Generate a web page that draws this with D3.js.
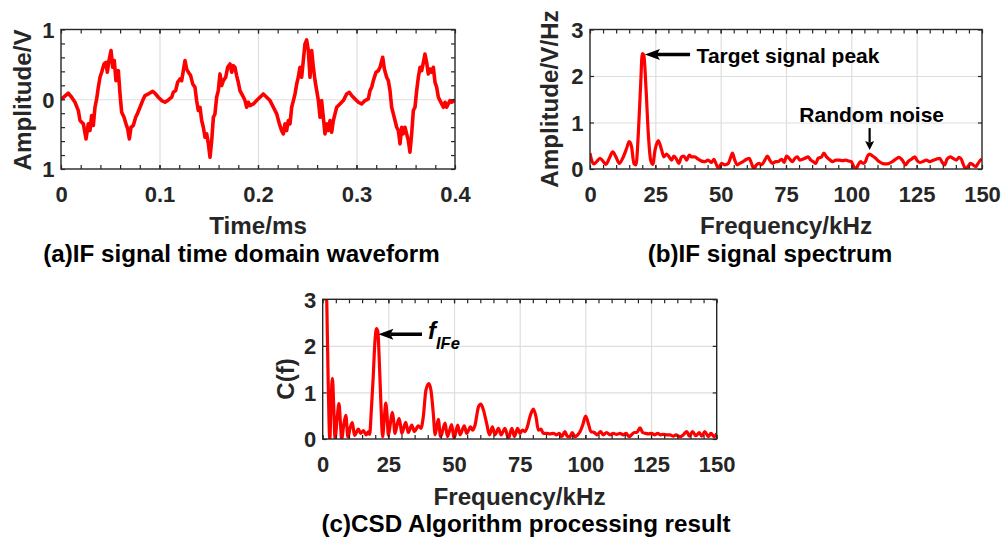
<!DOCTYPE html>
<html><head><meta charset="utf-8">
<script src="https://cdn.jsdelivr.net/npm/d3@7"></script>
<style>
html,body{margin:0;padding:0;background:#fff;}
svg{display:block;font-family:"Liberation Sans",Arial,Helvetica,sans-serif;font-weight:bold;}
</style></head><body>
<svg id="chart" width="1005" height="541"></svg>
<script>
// ---------------- DATA ----------------
// (a) IF signal time-domain waveform
const timeMs = [0,0.0074,0.0108,0.0142,0.0176,0.0193,0.0227,0.0254,0.0277,0.0294,
0.0311,0.0328,0.0345,0.0362,0.0379,0.0396,0.0413,0.0437,0.0457,0.0470,
0.0487,0.0508,0.0525,0.0541,0.0558,0.0582,0.0599,0.0616,0.0640,0.0660,
0.0677,0.0694,0.0711,0.0734,0.0758,0.0775,0.0802,0.0829,0.0853,0.0887,
0.0931,0.0954,0.0988,0.1022,0.1056,0.1090,0.1124,0.1140,0.1164,0.1184,
0.1208,0.1225,0.1242,0.1259,0.1276,0.1293,0.1316,0.1337,0.1360,0.1377,
0.1394,0.1411,0.1428,0.1445,0.1462,0.1479,0.1496,0.1513,0.1530,0.1547,
0.1563,0.1580,0.1597,0.1614,0.1631,0.1648,0.1672,0.1692,0.1716,0.1733,
0.1750,0.1766,0.1783,0.1800,0.1817,0.1844,0.1868,0.1885,0.1902,0.1919,
0.1953,0.1986,0.2020,0.2054,0.2088,0.2122,0.2156,0.2190,0.2217,0.2240,
0.2257,0.2274,0.2291,0.2308,0.2325,0.2342,0.2359,0.2376,0.2393,0.2409,
0.2426,0.2443,0.2460,0.2477,0.2494,0.2511,0.2528,0.2545,0.2562,0.2579,
0.2596,0.2613,0.2630,0.2646,0.2663,0.2680,0.2697,0.2714,0.2731,0.2748,
0.2765,0.2782,0.2799,0.2832,0.2866,0.2900,0.2927,0.2951,0.2985,0.3019,
0.3052,0.3086,0.3120,0.3137,0.3154,0.3171,0.3198,0.3222,0.3239,0.3266,
0.3283,0.3306,0.3323,0.3340,0.3357,0.3374,0.3391,0.3408,0.3425,0.3442,
0.3459,0.3475,0.3492,0.3509,0.3526,0.3543,0.3560,0.3577,0.3594,0.3611,
0.3628,0.3645,0.3662,0.3679,0.3695,0.3712,0.3729,0.3746,0.3763,0.3780,
0.3797,0.3814,0.3831,0.3848,0.3865,0.3882,0.3899,0.3915,0.3932,0.3949,
0.3966,0.4];
const amplitudeV = [0,0.086,0.029,-0.043,-0.162,-0.305,-0.353,-0.568,-0.353,-0.449,
-0.234,-0.377,-0.115,0.005,0.172,0.315,0.387,0.506,0.530,0.387,
0.554,0.697,0.458,0.554,0.267,0.410,0.076,-0.186,-0.258,-0.353,
-0.425,-0.568,-0.401,-0.377,-0.258,-0.210,-0.115,-0.019,0.053,0.076,
0.115,0.086,0.029,-0.019,-0.043,-0.010,0.029,0.100,0.124,0.243,
0.291,0.267,0.410,0.554,0.434,0.387,0.339,0.220,0.172,-0.019,
-0.162,-0.115,-0.305,-0.401,-0.544,-0.496,-0.640,-0.831,-0.592,-0.258,
-0.210,0.029,0.124,0.363,0.196,0.267,0.315,0.458,0.506,0.387,
0.482,0.458,0.339,0.243,0.124,0.053,-0.019,-0.115,-0.043,-0.091,
-0.067,-0.019,0.029,0.076,0.029,-0.019,-0.115,-0.210,-0.353,-0.449,
-0.496,-0.353,-0.449,-0.305,-0.353,-0.115,-0.019,0.076,0.220,0.315,
0.458,0.315,0.554,0.792,0.850,0.697,0.315,0.697,0.458,0.267,
0.124,-0.019,-0.258,-0.019,-0.258,-0.496,-0.353,-0.449,-0.305,-0.473,
-0.305,-0.210,-0.115,-0.067,-0.019,0.076,0.100,0.053,0.005,-0.043,
-0.067,-0.019,0.005,0.124,0.172,0.267,0.387,0.410,0.458,0.601,
0.434,0.315,0.267,0.124,-0.115,-0.210,-0.305,-0.401,-0.449,-0.640,
-0.401,-0.496,-0.401,-0.496,-0.592,-0.759,-0.496,-0.162,-0.115,0.124,
0.315,0.458,0.410,0.530,0.649,0.530,0.363,0.434,0.387,0.458,
0.243,0.172,0.029,-0.019,-0.067,-0.115,-0.043,-0.115,-0.067,-0.019,
-0.043,-0.010];

// (b) IF signal spectrum
const specFreqKHz = [0,0.64,1.53,2.55,3.82,5.10,6.12,7.39,8.67,9.94,
11.2,12.5,14.0,15.0,15.9,16.8,17.6,18.5,19.4,20.0,
20.6,21.4,22.3,23.2,24.0,24.9,26.1,27.4,28.3,29.3,
30.3,31.2,32.1,33.1,34.0,35.0,35.9,37.0,38.0,38.9,
40.1,41.4,42.7,44.0,45.2,46.5,47.4,48.4,49.2,50.3,
51.6,52.9,53.9,54.5,55.4,56.3,57.3,58.6,59.9,60.9,
61.8,62.7,63.7,64.7,65.6,66.9,67.9,68.8,69.8,71.1,
72.0,73.3,74.3,75.2,76.2,77.5,78.4,79.3,80.3,81.3,
82.2,83.5,84.5,85.4,86.4,87.3,88.6,89.5,90.5,91.5,
92.8,94.1,95.3,96.6,97.9,99.1,100.0,100.9,101.7,102.6,
103.5,104.5,105.4,106.2,107.0,108.1,109.3,110.6,111.9,113.2,
114.4,115.7,117.0,118.3,119.5,120.8,121.7,123.0,124.3,125.1,
126.2,127.4,128.7,130.0,131.3,132.5,133.8,134.8,135.7,136.6,
137.9,138.9,140.2,141.2,142.1,142.7,143.7,144.6,145.5,146.6,
147.6,148.5,149.4,150.0];
const specAmp = [0.34,0.19,0.11,0.16,0.23,0.16,0.10,0.23,0.37,0.26,
0.12,0.23,0.44,0.59,0.48,0.12,0.09,0.77,1.84,2.48,
2.45,1.77,0.77,0.19,0.10,0.41,0.61,0.41,0.26,0.32,
0.26,0.19,0.28,0.21,0.12,0.26,0.28,0.19,0.30,0.26,
0.26,0.21,0.17,0.16,0.19,0.14,0.21,0.09,0.01,0.12,
0.09,0.12,0.26,0.34,0.19,0.09,0.12,0.16,0.21,0.23,
0.12,0.01,0.09,0.12,0.09,0.19,0.28,0.19,0.12,0.16,
0.16,0.21,0.14,0.28,0.23,0.16,0.23,0.26,0.19,0.21,
0.23,0.26,0.19,0.16,0.12,0.23,0.26,0.34,0.26,0.21,
0.16,0.19,0.19,0.18,0.19,0.17,0.16,0.05,0.0,0.09,
0.16,0.12,0.16,0.28,0.32,0.28,0.23,0.16,0.12,0.11,
0.12,0.16,0.21,0.25,0.19,0.09,0.16,0.21,0.26,0.19,
0.14,0.16,0.19,0.16,0.19,0.21,0.23,0.14,0.09,0.21,
0.26,0.23,0.19,0.25,0.21,0.12,0.01,0.05,0.12,0.09,
0.05,0.12,0.19,0.21];

// (c) CSD algorithm result
const csdFreqKHz = [0,1.0,1.6,2.1,2.7,3.2,3.7,4.2,4.7,5.5,
6.2,6.7,7.2,8.0,8.8,9.6,10.5,11.3,12.1,13.6,
14.5,15.5,16.5,17.4,17.9,18.4,19.2,19.9,20.5,21.0,
21.6,22.2,22.8,23.4,24.0,24.5,25.0,25.8,26.5,27.0,
27.5,28.3,29.1,29.6,30.1,31.6,32.6,33.9,34.9,36.4,
37.4,38.3,39.3,40.4,41.2,42.1,42.8,44.0,44.9,46.6,
47.5,49.1,50.0,51.4,52.3,53.9,54.8,56.3,57.1,58.0,
59.3,60.2,61.2,62.4,63.5,64.6,65.6,66.9,67.9,69.4,
70.7,72.0,73.0,74.2,75.1,76.0,77.0,77.9,78.9,80.2,
81.2,82.1,83.1,84.0,85.3,86.5,87.8,89.1,90.1,91.0,
92.2,93.1,94.1,95.0,96.0,97.1,98.0,99.0,100.1,101.1,
102.1,103.4,104.5,105.8,106.8,108.1,109.4,110.6,111.9,113.2,
114.4,115.5,116.6,117.6,118.6,119.6,120.8,121.8,122.9,124.0,
125.2,126.5,127.5,128.7,129.7,130.9,132.2,133.5,134.5,136.0,
137.3,138.6,139.6,140.8,142.1,143.4,144.3,145.5,146.8,147.8,
149.1,150];
const csdValue = [8,4.5,2.8,1.2,0.0,0.8,1.30,0.7,0.0,0.45,
0.76,0.4,0.0,0.3,0.51,0.04,0.25,0.35,0.08,0.21,
0.12,0.18,0.09,0.16,0.1,0.5,1.3,2.1,2.37,2.3,
1.6,0.7,0.05,0.4,0.77,0.5,0.08,0.35,0.57,0.4,
0.12,0.3,0.44,0.3,0.12,0.36,0.14,0.30,0.16,0.28,
0.23,0.48,1.05,1.19,1.05,0.55,0.09,0.42,0.05,0.34,
0.05,0.31,0.01,0.30,0.09,0.28,0.12,0.26,0.19,0.30,
0.69,0.75,0.62,0.34,0.09,0.26,0.09,0.23,0.09,0.23,
0.01,0.23,0.05,0.23,0.12,0.19,0.16,0.26,0.48,0.64,
0.48,0.19,0.21,0.12,0.12,0.11,0.12,0.09,0.12,0.05,
0.16,0.06,0.05,0.14,0.05,0.09,0.16,0.30,0.49,0.34,
0.16,0.14,0.09,0.16,0.09,0.14,0.09,0.12,0.10,0.12,
0.09,0.12,0.05,0.09,0.14,0.14,0.24,0.14,0.12,0.11,
0.12,0.09,0.12,0.09,0.10,0.09,0.09,0.06,0.09,0.05,
0.09,0.16,0.06,0.16,0.07,0.14,0.06,0.16,0.05,0.12,
0.05,0.12];

// Ticks and labels
const timeTicks = [0, 0.1, 0.2, 0.3, 0.4];
const timeTickLabels = ["0", "0.1", "0.2", "0.3", "0.4"];
const ampTicks = [-1, 0, 1];
const ampTickLabels = ["1", "0", "1"];
const freqTicks = [0, 25, 50, 75, 100, 125, 150];
const freqTickLabels = ["0", "25", "50", "75", "100", "125", "150"];
const spectrumTicks = [0, 1, 2, 3];
const spectrumTickLabels = ["0", "1", "2", "3"];

// ---------------- DRAWING ----------------
const svg = d3.select("#chart");
const AX = "#262626", GRID = "#dedede", RED = "#ff0000";

function drawPanel(c) {
  const g = svg.append("g");
  const x = d3.scaleLinear().domain(c.xDomain).range([c.left, c.left + c.width]);
  const y = d3.scaleLinear().domain(c.yDomain).range([c.top + c.height, c.top]);
  const bottom = c.top + c.height, right = c.left + c.width;

  const clean = s => { s.attr("font-size", null).attr("font-family", null); s.select(".domain").remove(); };

  // grid
  g.append("g").attr("transform", `translate(0,${bottom})`)
    .call(d3.axisBottom(x).tickValues(c.xTicks.filter(v => v > c.xDomain[0] && v < c.xDomain[1])).tickSize(-c.height).tickFormat(""))
    .call(clean).selectAll("line").attr("stroke", GRID).attr("stroke-width", 1.2);
  g.append("g").attr("transform", `translate(${c.left},0)`)
    .call(d3.axisLeft(y).tickValues(c.yTicks.filter(v => v > c.yDomain[0] && v < c.yDomain[1])).tickSize(-c.width).tickFormat(""))
    .call(clean).selectAll("line").attr("stroke", GRID).attr("stroke-width", 1.2);

  // data line
  const clipId = "clip" + c.id;
  svg.append("clipPath").attr("id", clipId).append("rect")
    .attr("x", c.left).attr("y", c.top).attr("width", c.width).attr("height", c.height);
  const pts = d3.zip(c.xs, c.ys);
  g.append("path").datum(pts)
    .attr("clip-path", `url(#${clipId})`)
    .attr("fill", "none").attr("stroke", RED).attr("stroke-width", c.lw)
    .attr("stroke-linejoin", "round")
    .attr("d", d3.line().x(d => x(d[0])).y(d => y(d[1])).curve(c.curve));

  // box
  g.append("rect").attr("x", c.left).attr("y", c.top).attr("width", c.width).attr("height", c.height)
    .attr("fill", "none").attr("stroke", AX).attr("stroke-width", 1.4);

  // tick marks (inward, all four sides, major + minor)
  const tl = 4;
  const xAll = c.xTicks.concat(c.xMinor), yAll = c.yTicks.concat(c.yMinor);
  const tk = s => { s.call(clean); s.selectAll("line").attr("stroke", AX).attr("stroke-width", 1.2); };
  g.append("g").attr("transform", `translate(0,${bottom})`).call(d3.axisBottom(x).tickValues(xAll).tickSize(-tl).tickFormat("")).call(tk);
  g.append("g").attr("transform", `translate(0,${c.top})`).call(d3.axisTop(x).tickValues(xAll).tickSize(-tl).tickFormat("")).call(tk);
  g.append("g").attr("transform", `translate(${c.left},0)`).call(d3.axisLeft(y).tickValues(yAll).tickSize(-tl).tickFormat("")).call(tk);
  g.append("g").attr("transform", `translate(${right},0)`).call(d3.axisRight(y).tickValues(yAll).tickSize(-tl).tickFormat("")).call(tk);

  // tick labels
  const xl = g.append("g").attr("transform", `translate(0,${bottom})`)
    .call(d3.axisBottom(x).tickValues(c.xTicks).tickSize(0).tickPadding(17).tickFormat((d, i) => c.xTickLabels[i]));
  xl.call(clean); xl.selectAll("line").remove();
  xl.selectAll("text").attr("fill", AX).style("font-size", "22px");
  const yl = g.append("g").attr("transform", `translate(${c.left},0)`)
    .call(d3.axisLeft(y).tickValues(c.yTicks).tickSize(0).tickPadding(6.5).tickFormat((d, i) => c.yTickLabels[i]));
  yl.call(clean); yl.selectAll("line").remove();
  yl.selectAll("text").attr("fill", AX).style("font-size", "22px").attr("dy", "0.36em");

  // axis labels
  g.append("text").attr("x", c.xLabelPos[0]).attr("y", c.xLabelPos[1]).attr("text-anchor", "middle")
    .attr("fill", AX).style("font-size", "24.2px").text(c.xLabel);
  g.append("text").attr("transform", `translate(${c.yLabelPos[0]},${c.yLabelPos[1]}) rotate(-90)`)
    .attr("text-anchor", "middle").attr("fill", AX).style("font-size", "24.2px").text(c.yLabel);
  // caption
  g.append("text").attr("x", c.titlePos[0]).attr("y", c.titlePos[1]).attr("text-anchor", "middle")
    .attr("fill", "#000").style("font-size", "24.2px").text(c.title);
  return {x, y, g};
}

function arrow(g, x1, y1, x2, y2, w, L, W) {
  const a = Math.atan2(y2 - y1, x2 - x1);
  const ux = Math.cos(a), uy = Math.sin(a), px = -uy, py = ux;
  const bx = x2 - ux * L * 0.8, by = y2 - uy * L * 0.8;
  g.append("line").attr("x1", x1).attr("y1", y1).attr("x2", bx).attr("y2", by)
    .attr("stroke", "#000").attr("stroke-width", w);
  const p = [[x2, y2],
    [x2 - ux * L + px * W, y2 - uy * L + py * W],
    [bx, by],
    [x2 - ux * L - px * W, y2 - uy * L - py * W]];
  g.append("path").attr("d", "M" + p.map(q => q.join(",")).join("L") + "Z").attr("fill", "#000");
}

// (a)
drawPanel({
  id: "a", left: 61, top: 29.5, width: 394, height: 139.5,
  xDomain: [0, 0.4], yDomain: [-1, 1],
  xTicks: timeTicks, xTickLabels: timeTickLabels,
  xMinor: d3.range(1, 20).map(i => +(i * 0.02).toFixed(2)),
  yTicks: ampTicks, yTickLabels: ampTickLabels,
  yMinor: [-0.8, -0.6, -0.4, -0.2, 0.2, 0.4, 0.6, 0.8],
  xs: timeMs, ys: amplitudeV, lw: 3.6, curve: d3.curveLinear,
  xLabel: "Time/ms", xLabelPos: [258, 234],
  yLabel: "Amplitude/V", yLabelPos: [30.5, 100],
  title: "(a)IF signal time domain waveform", titlePos: [241.5, 262]
});

// (b)
const pb = drawPanel({
  id: "b", left: 590, top: 29.5, width: 392, height: 139.5,
  xDomain: [0, 150], yDomain: [0, 3],
  xTicks: freqTicks, xTickLabels: freqTickLabels,
  xMinor: d3.range(5, 150, 5),
  yTicks: spectrumTicks, yTickLabels: spectrumTickLabels, yMinor: [],
  xs: specFreqKHz, ys: specAmp, lw: 3.2, curve: d3.curveMonotoneX,
  xLabel: "Frequency/kHz", xLabelPos: [786, 234],
  yLabel: "Amplitude/V/Hz", yLabelPos: [558, 99],
  title: "(b)IF signal spectrum", titlePos: [770, 262]
});
arrow(pb.g, pb.x(38.3), pb.y(2.46), pb.x(21.0), pb.y(2.46), 3.5, 15, 5.5);
pb.g.append("text").attr("x", pb.x(40.8)).attr("y", pb.y(2.27)).attr("fill", "#000")
  .style("font-size", "21px").text("Target signal peak");
pb.g.append("text").attr("x", pb.x(80.1)).attr("y", pb.y(1.02)).attr("fill", "#000")
  .style("font-size", "21px").text("Random noise");
arrow(pb.g, pb.x(107.0), pb.y(0.88), pb.x(107.0), pb.y(0.41), 2.2, 9, 4.5);

// (c)
const pc = drawPanel({
  id: "c", left: 322.7, top: 299.3, width: 394, height: 139.7,
  xDomain: [0, 150], yDomain: [0, 3],
  xTicks: freqTicks, xTickLabels: freqTickLabels,
  xMinor: d3.range(5, 150, 5),
  yTicks: spectrumTicks, yTickLabels: spectrumTickLabels, yMinor: [],
  xs: csdFreqKHz, ys: csdValue, lw: 3.2, curve: d3.curveMonotoneX,
  xLabel: "Frequency/kHz", xLabelPos: [519.5, 505],
  yLabel: "C(f)", yLabelPos: [294, 379],
  title: "(c)CSD Algorithm processing result", titlePos: [526, 531.7]
});
arrow(pc.g, pc.x(37.8), pc.y(2.25), pc.x(21.2), pc.y(2.25), 3.5, 15, 5.5);
const ft = pc.g.append("text").attr("x", pc.x(40.1)).attr("y", pc.y(2.15)).attr("fill", "#000")
  .style("font-style", "italic").style("font-size", "24px");
ft.append("tspan").text("f");
ft.append("tspan").attr("dy", 10).style("font-size", "16.5px").text("IFe");
</script>
</body></html>
